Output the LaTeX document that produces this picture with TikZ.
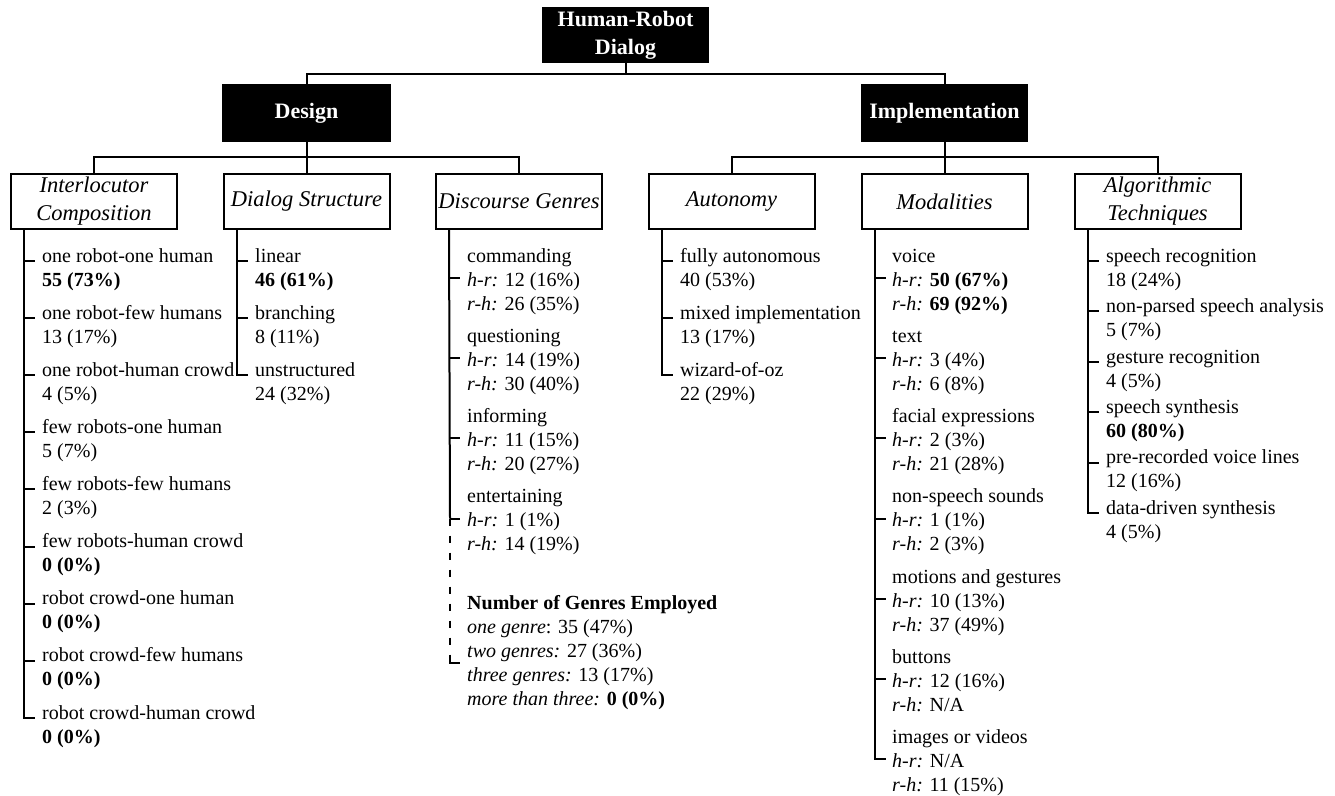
\documentclass[tikz,border=0pt]{standalone}
\usepackage{fontspec}
\setmainfont{Liberation Serif}
\begin{document}
\begin{tikzpicture}[x=1pt,y=-1pt,
  link/.style={line width=2pt},
  topbox/.style={fill=black,text=white,font=\bfseries\fontsize{22}{28}\selectfont,
    align=center,inner sep=0pt},
  catbox/.style={draw,line width=2pt,font=\itshape\fontsize{22.5}{28}\selectfont,
    align=center,inner sep=0pt,minimum width=166pt,minimum height=55pt},
  items/.style={anchor=north west,inner sep=0pt,align=left,
    font=\fontsize{20}{24}\selectfont},
]
\useasboundingbox (0,0) rectangle (1335,795);

% top levels
\node[topbox,minimum width=167pt,minimum height=56pt] (root) at (625.5,35) {Human-Robot\\Dialog};
\node[topbox,minimum width=169pt,minimum height=58pt] (design) at (306.5,113) {Design};
\node[topbox,minimum width=167pt,minimum height=58pt] (impl) at (944.5,113) {Implementation};

% categories
\node[catbox] (ic) at (94,201.5) {Interlocutor\\Composition};
\node[catbox] (ds) at (306.5,201.5) {Dialog Structure};
\node[catbox] (dg) at (519,201.5) {Discourse Genres};
\node[catbox] (au) at (731.5,201.5) {Autonomy};
\node[catbox] (mo) at (944.5,201.5) {Modalities};
\node[catbox] (at) at (1157.5,201.5) {Algorithmic\\Techniques};

% tree connectors
\coordinate (rootbar) at (625.5,74);
\draw[link] (root.south) -- (rootbar);
\draw[link] (design.north) |- (rootbar) -| (impl.north);
\coordinate (dbar) at (306.5,157);
\draw[link] (design.south) -- (ds.north);
\draw[link] (ic.north) |- (dbar) -| (dg.north);
\coordinate (ibar) at (944.5,157);
\draw[link] (impl.south) -- (mo.north);
\draw[link] (au.north) |- (ibar) -| (at.north);

% item lists
\node[items] (icl) at (42,247) {\rule{0pt}{15pt}one robot-one human\\\textbf{55 (73\%)}\\[9.1pt]
one robot-few humans\\13 (17\%)\\[9.1pt]
one robot-human crowd\\4 (5\%)\\[9.1pt]
few robots-one human\\5 (7\%)\\[9.1pt]
few robots-few humans\\2 (3\%)\\[9.1pt]
few robots-human crowd\\\textbf{0 (0\%)}\\[9.1pt]
robot crowd-one human\\\textbf{0 (0\%)}\\[9.1pt]
robot crowd-few humans\\\textbf{0 (0\%)}\\[9.1pt]
robot crowd-human crowd\\\textbf{0 (0\%)}};

\node[items] (dsl) at (255,247) {\rule{0pt}{15pt}linear\\\textbf{46 (61\%)}\\[9.1pt]
branching\\8 (11\%)\\[9.1pt]
unstructured\\24 (32\%)};

\node[items] (dgl) at (467,247) {\rule{0pt}{15pt}commanding\\\textit{h-r:} 12 (16\%)\\\textit{r-h:} 26 (35\%)\\[8.2pt]
questioning\\\textit{h-r:} 14 (19\%)\\\textit{r-h:} 30 (40\%)\\[8.2pt]
informing\\\textit{h-r:} 11 (15\%)\\\textit{r-h:} 20 (27\%)\\[8.2pt]
entertaining\\\textit{h-r:} 1 (1\%)\\\textit{r-h:} 14 (19\%)};

\node[items] (dgn) at (467,594) {\rule{0pt}{15pt}\textbf{Number of Genres Employed}\\
\textit{one genre}: 35 (47\%)\\
\textit{two genres:} 27 (36\%)\\
\textit{three genres:} 13 (17\%)\\
\textit{more than three:} \textbf{0 (0\%)}};

\node[items] (aul) at (680,247) {\rule{0pt}{15pt}fully autonomous\\40 (53\%)\\[9.1pt]
mixed implementation\\13 (17\%)\\[9.1pt]
wizard-of-oz\\22 (29\%)};

\node[items] (mol) at (892,247) {\rule{0pt}{15pt}voice\\\textit{h-r:} \textbf{50 (67\%)}\\\textit{r-h:} \textbf{69 (92\%)}\\[8.2pt]
text\\\textit{h-r:} 3 (4\%)\\\textit{r-h:} 6 (8\%)\\[8.2pt]
facial expressions\\\textit{h-r:} 2 (3\%)\\\textit{r-h:} 21 (28\%)\\[8.2pt]
non-speech sounds\\\textit{h-r:} 1 (1\%)\\\textit{r-h:} 2 (3\%)\\[8.2pt]
motions and gestures\\\textit{h-r:} 10 (13\%)\\\textit{r-h:} 37 (49\%)\\[8.2pt]
buttons\\\textit{h-r:} 12 (16\%)\\\textit{r-h:} N/A\\[8.2pt]
images or videos\\\textit{h-r:} N/A\\\textit{r-h:} 11 (15\%)};

\node[items] (atl) at (1106,247) {\rule{0pt}{15pt}speech recognition\\18 (24\%)\\[2.4pt]
non-parsed speech analysis\\5 (7\%)\\[2.4pt]
gesture recognition\\4 (5\%)\\[2.4pt]
speech synthesis\\\textbf{60 (80\%)}\\[2.4pt]
pre-recorded voice lines\\12 (16\%)\\[2.4pt]
data-driven synthesis\\4 (5\%)};

% list brackets: stems with ticks
\draw[link] ([xshift=14pt]ic.south west) |- (35,717.8);
\foreach \y in {261,318.1,375.2,432.3,489.4,546.5,603.6,660.7}
  \draw[link] (25,\y) -- ++(10,0);

\draw[link] ([xshift=14pt]ds.south west) |- (247.5,375.2);
\foreach \y in {261,318.1}
  \draw[link] (237.5,\y) -- ++(10,0);

\draw[link] ([xshift=14pt]dg.south west) -- (450,518.6);
\foreach \y in {278,358.2,438.4,518.6}
  \draw[link] (450,\y) -- ++(10,0);
\draw[link,dash pattern=on 7pt off 10pt] (450,518.6) -- (450,656);
\draw[link] (450,656) |- (460,663);

\draw[link] ([xshift=14pt]au.south west) |- (672.5,375.2);
\foreach \y in {261,318.1}
  \draw[link] (662.5,\y) -- ++(10,0);

\draw[link] ([xshift=14pt]mo.south west) |- (885.5,759.2);
\foreach \y in {278,358.2,438.4,518.6,598.8,679}
  \draw[link] (875.5,\y) -- ++(10,0);

\draw[link] ([xshift=14pt]at.south west) |- (1098.5,513);
\foreach \y in {261,311.4,361.8,412.2,462.6}
  \draw[link] (1088.5,\y) -- ++(10,0);
\end{tikzpicture}
\end{document}
